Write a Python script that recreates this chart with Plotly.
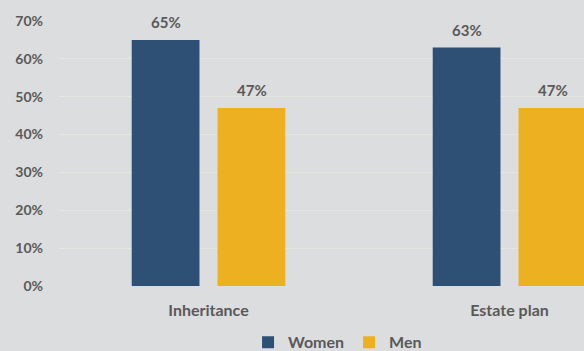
import plotly.graph_objects as go

categories = ["Inheritance", "Estate plan"]
women = [0.65, 0.63]
men = [0.47, 0.47]
series_names = ["Women", "Men"]
tick_vals = [0, 0.1, 0.2, 0.3, 0.4, 0.5, 0.6, 0.7]
tick_text = ["0%", "10%", "20%", "30%", "40%", "50%", "60%", "70%"]

NAVY = "#2E5075"
GOLD = "#EDB020"
BG = "#DCDDDF"
TXT = "#595959"
FONT = "Lato"

fig = go.Figure()
for name, vals, col in [(series_names[0], women, NAVY), (series_names[1], men, GOLD)]:
    fig.add_trace(go.Bar(
        name=name, x=categories, y=vals,
        marker=dict(color=col, line=dict(width=0)),
        hoverinfo="skip",
    ))

# value labels above each bar
bar_shift = 43
for vals, dx in [(women, -bar_shift), (men, bar_shift)]:
    for cat, v in zip(categories, vals):
        fig.add_annotation(
            x=cat, y=v, text=f"{round(v * 100)}%", showarrow=False,
            xshift=dx, yshift=18, yanchor="middle",
            font=dict(family=FONT, size=15, color=TXT, weight="bold"),
        )

fig.update_layout(
    width=584, height=351,
    margin=dict(l=58, r=0, t=21, b=65, autoexpand=False),
    paper_bgcolor=BG, plot_bgcolor=BG,
    barmode="group", bargap=0.43, bargroupgap=0.21,
    font=dict(family=FONT, size=14, color=TXT),
    showlegend=True,
    legend=dict(
        orientation="h", xref="container", yref="container",
        x=0.578, xanchor="center", y=0.025, yanchor="middle",
        font=dict(family=FONT, size=16, color=TXT, weight="bold"),
        itemwidth=30, traceorder="normal", bgcolor="rgba(0,0,0,0)",
        tracegroupgap=0,
    ),
)
fig.update_xaxes(
    range=[-0.5, 1.2475], showgrid=False, zeroline=False, showline=False,
    ticks="", ticklabelstandoff=13,
    tickfont=dict(family=FONT, size=16, color=TXT, weight="bold"),
)
fig.update_yaxes(
    range=[0, 0.7], tickvals=tick_vals, ticktext=tick_text,
    showgrid=True, gridcolor="#E6E6E1", gridwidth=1, zeroline=False,
    showline=False, ticks="", ticklabelstandoff=14,
    tickfont=dict(family=FONT, size=14, color=TXT, weight="bold"),
)

fig.write_html("out.html")
